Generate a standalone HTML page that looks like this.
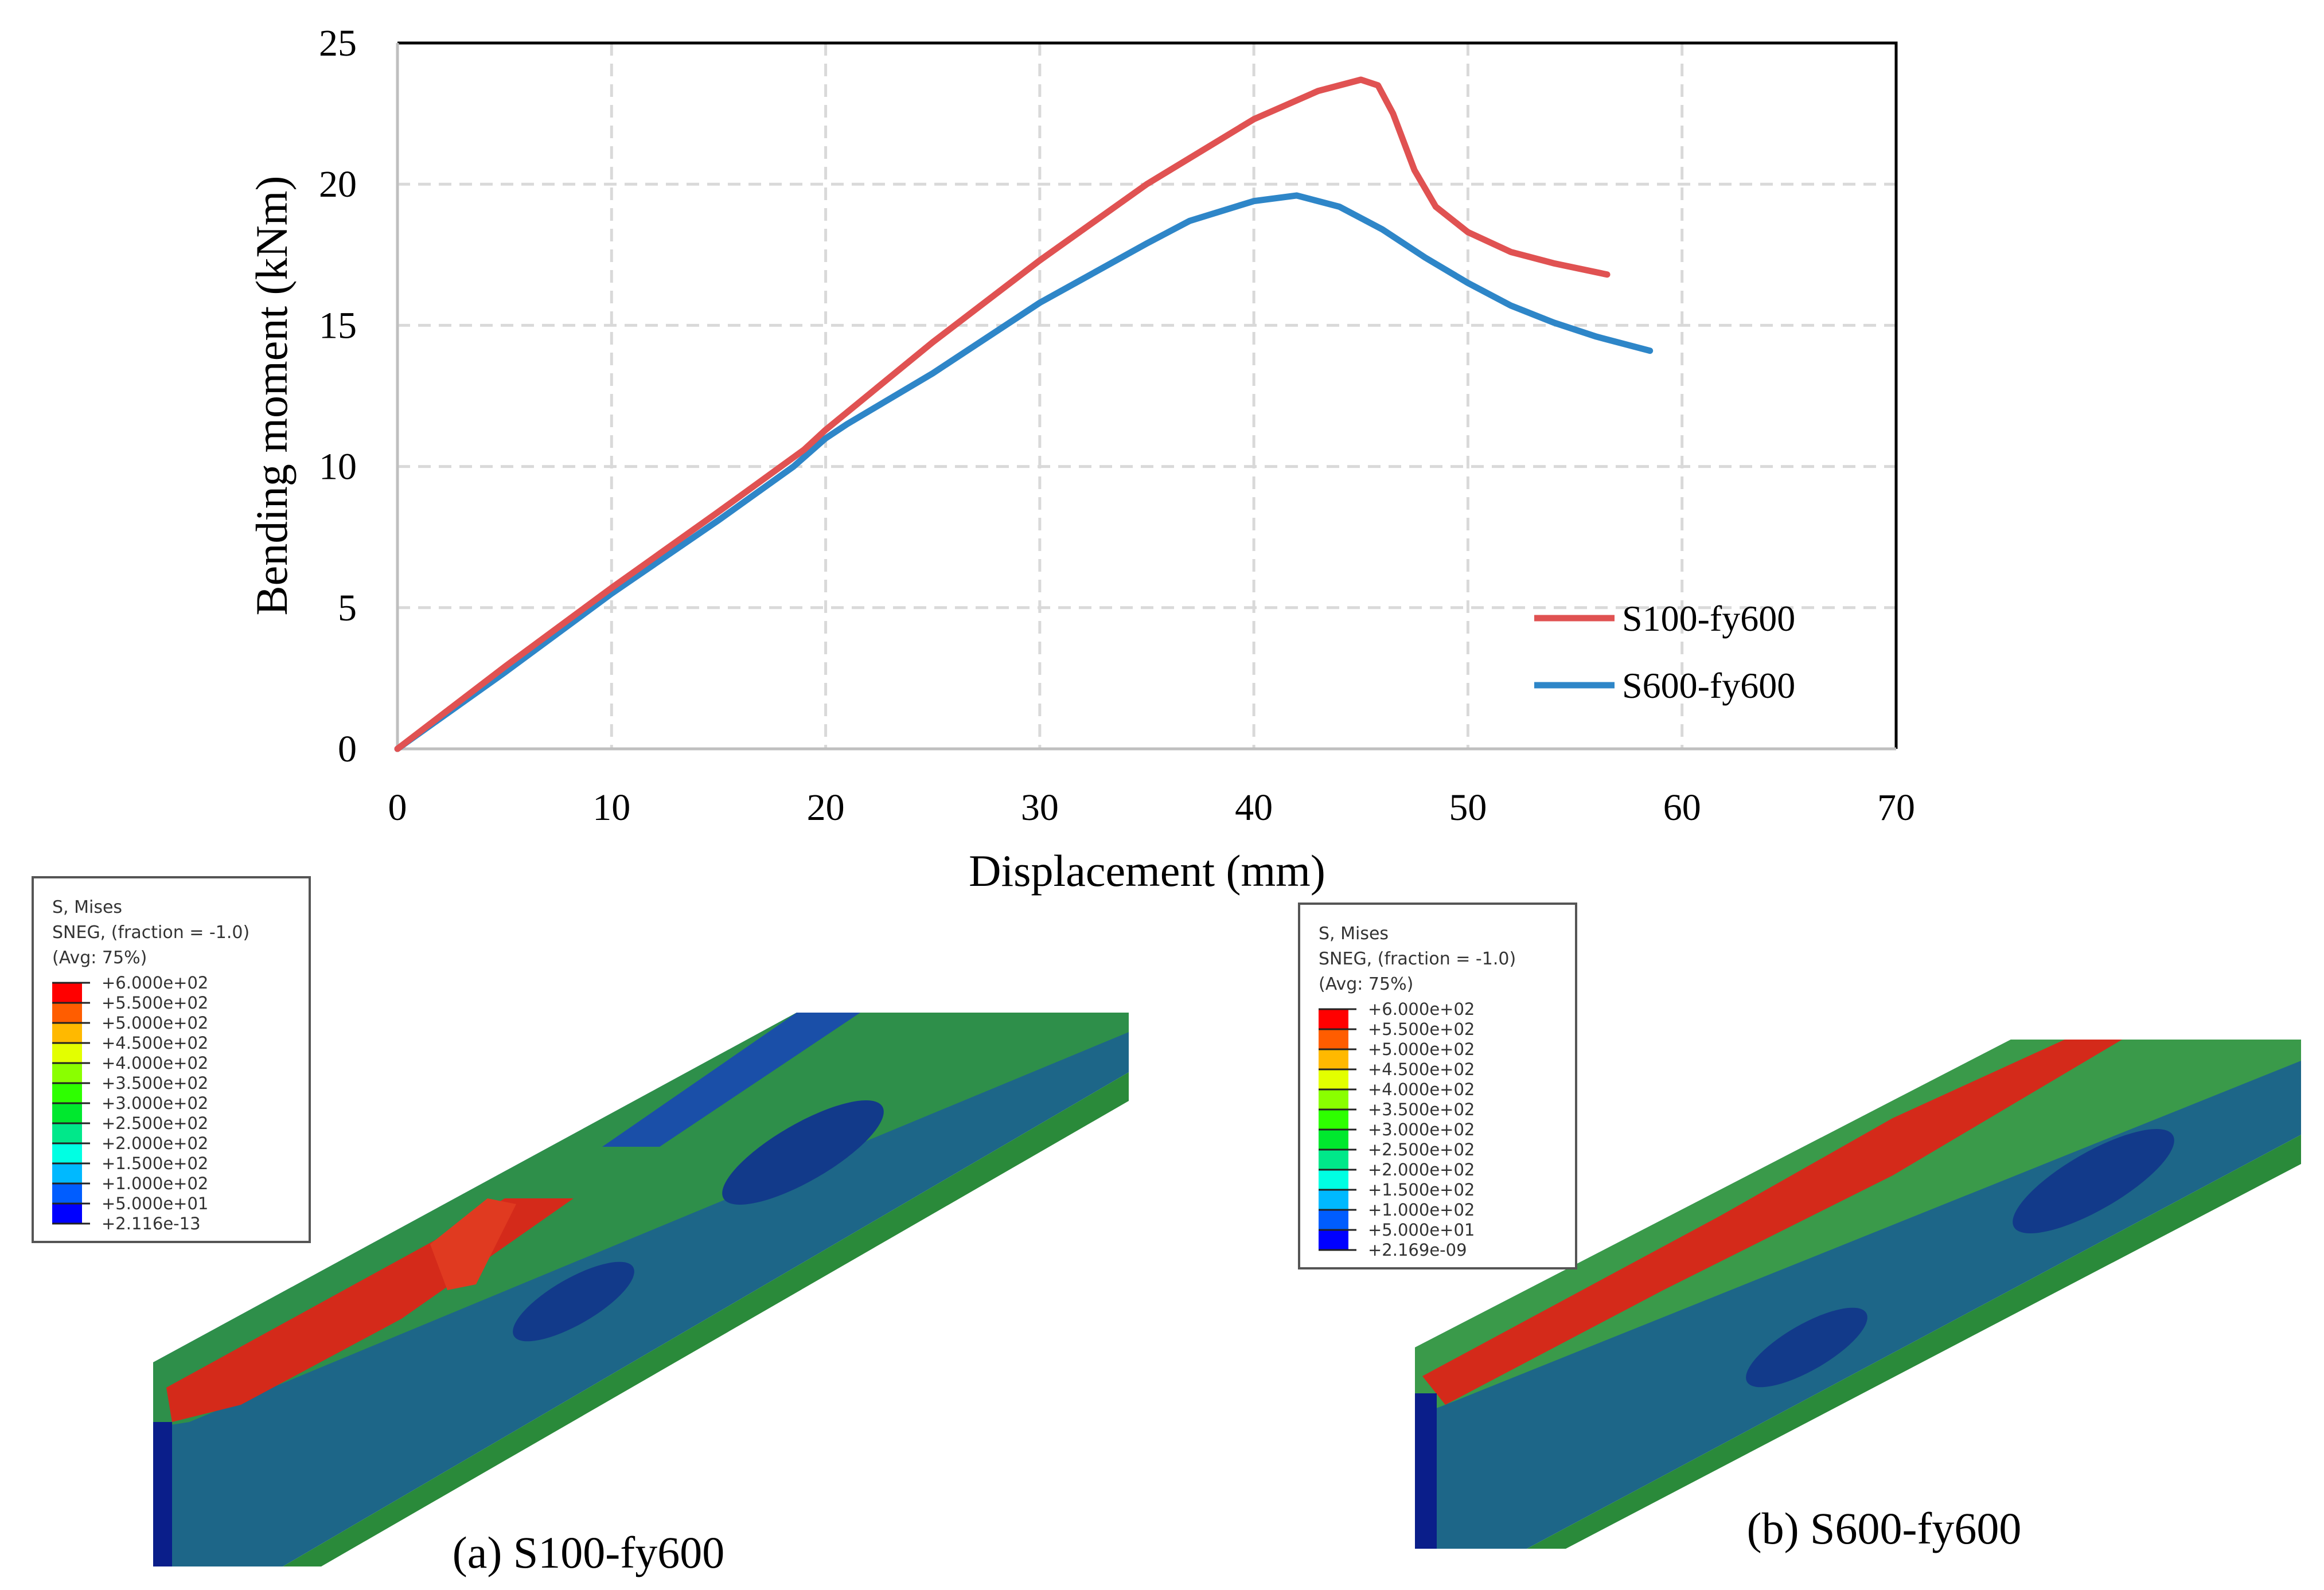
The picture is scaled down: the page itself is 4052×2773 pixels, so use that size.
<!DOCTYPE html>
<html><head><meta charset="utf-8"><style>
html,body{margin:0;padding:0;background:#fff;}
svg{display:block;}
</style></head><body>
<svg id="fig" width="4052" height="2773" viewBox="0 0 4052 2773" xmlns="http://www.w3.org/2000/svg">
<g id="chart"></g>
<g id="fea">
  <defs>
    <linearGradient id="webA" x1="0" y1="0" x2="1" y2="0">
      <stop offset="0" stop-color="#1a5a8a"/><stop offset="0.5" stop-color="#1f6a8c"/><stop offset="1" stop-color="#2a7a80"/>
    </linearGradient>
  </defs>
  <!-- beam a -->
  <g>
    <polygon points="267,2376 1389,1766 1968,1766 1968,1870 493,2732 267,2732" fill="#1d6688"/>
    <polygon points="267,2376 1389,1766 1968,1766 1968,1800 330,2480 267,2490" fill="#2e8f4a"/>
    <polygon points="1389,1766 1500,1766 1150,2000 1050,2000" fill="#1a4fa8"/>
    <polygon points="290,2420 800,2140 880,2090 1000,2090 700,2300 420,2450 300,2480" fill="#d42a1a"/>
    <polygon points="750,2170 850,2090 900,2100 830,2240 780,2250" fill="#e03a20"/>
    <polygon points="493,2732 1968,1870 1968,1920 560,2732" fill="#2a8a3a"/>
    <polygon points="267,2480 300,2480 300,2732 267,2732" fill="#0a1e8a"/>
    <ellipse cx="1400" cy="2010" rx="160" ry="50" transform="rotate(-30 1400 2010)" fill="#123a8a"/>
    <ellipse cx="1000" cy="2270" rx="120" ry="40" transform="rotate(-30 1000 2270)" fill="#123a8a"/>
  </g>
  <!-- beam b -->
  <g>
    <polygon points="2467,2350 3506,1813 4012,1813 4012,1979 2662,2701 2467,2701" fill="#1d6688"/>
    <polygon points="2467,2350 3506,1813 4012,1813 4012,1850 2520,2450 2467,2470" fill="#3a9a4a"/>
    <polygon points="2480,2400 3000,2120 3300,1950 3600,1813 3700,1813 3300,2050 2900,2250 2520,2450" fill="#d42a1a"/>
    <polygon points="2662,2701 4012,1979 4012,2030 2730,2701" fill="#2a8a3a"/>
    <polygon points="2467,2430 2505,2430 2505,2701 2467,2701" fill="#0a1e8a"/>
    <ellipse cx="3150" cy="2350" rx="120" ry="40" transform="rotate(-30 3150 2350)" fill="#123a8a"/>
    <ellipse cx="3650" cy="2060" rx="160" ry="50" transform="rotate(-30 3650 2060)" fill="#123a8a"/>
  </g>
  <text x="1026" y="2734" font-family="Liberation Serif, serif" font-size="78" text-anchor="middle">(a) S100-fy600</text>
  <text x="3285" y="2692" font-family="Liberation Serif, serif" font-size="78" text-anchor="middle">(b) S600-fy600</text>
</g>
<g id="legA"></g>
<g id="legB"></g>
</svg>
<script>
const xTicks = [0,10,20,30,40,50,60,70];
const yTicks = [0,5,10,15,20,25];
const redX = [0,5,10,15,19,20,25,30,35,40,43,45,45.8,46.5,47.5,48.5,50,52,54,56.5];
const redY = [0,2.9,5.7,8.4,10.6,11.3,14.4,17.3,20.0,22.3,23.3,23.7,23.5,22.5,20.5,19.2,18.3,17.6,17.2,16.8];
const blueX = [0,5,10,15,18.5,20,21,25,30,35,37,40,42,44,46,48,50,52,54,56,58.5];
const blueY = [0,2.7,5.5,8.1,10,11,11.5,13.3,15.8,17.9,18.7,19.4,19.6,19.2,18.4,17.4,16.5,15.7,15.1,14.6,14.1];
const seriesNames = ["S100-fy600","S600-fy600"];
const legendA = ["+6.000e+02","+5.500e+02","+5.000e+02","+4.500e+02","+4.000e+02","+3.500e+02","+3.000e+02","+2.500e+02","+2.000e+02","+1.500e+02","+1.000e+02","+5.000e+01","+2.116e-13"];
const legendB = ["+6.000e+02","+5.500e+02","+5.000e+02","+4.500e+02","+4.000e+02","+3.500e+02","+3.000e+02","+2.500e+02","+2.000e+02","+1.500e+02","+1.000e+02","+5.000e+01","+2.169e-09"];
const bandColors = ["#ff0000","#ff5d00","#ffb900","#e3ff00","#8aff00","#2eff00","#00e82e","#00e88a","#00ffe3","#00b9ff","#005dff","#0000ff"];

const NS="http://www.w3.org/2000/svg";
const L=693,R=3306,T=75,B=1306;
const sx=v=>L+(v-0)/(70-0)*(R-L);
const sy=v=>B-(v-0)/(25-0)*(B-T);
const chart=document.getElementById('chart');
function mk(tag,attrs,parent){const e=document.createElementNS(NS,tag);for(const k in attrs)e.setAttribute(k,attrs[k]);parent.appendChild(e);return e;}

xTicks.forEach(t=>{
  if(t>0&&t<70){const g=mk('line',{x1:sx(t),x2:sx(t),y1:T,y2:B,stroke:'#d9d9d9','stroke-width':5,'stroke-dasharray':'22,14'},chart);
  
  }
  const tx=mk('text',{x:sx(t),y:1430,'font-family':'Liberation Serif, serif','font-size':66,'text-anchor':'middle'},chart);
  tx.textContent=t;
  
  
});
yTicks.forEach(t=>{
  if(t>0&&t<25){const g=mk('line',{x1:L,x2:R,y1:sy(t),y2:sy(t),stroke:'#d9d9d9','stroke-width':5,'stroke-dasharray':'22,14'},chart);
  
  }
  const tx=mk('text',{x:622,y:sy(t)+22,'font-family':'Liberation Serif, serif','font-size':66,'text-anchor':'end'},chart);
  tx.textContent=t;
  
  
});
const frame=mk('path',{d:`M${L},${T} H${R} V${B}`,fill:'none',stroke:'#000','stroke-width':5},chart);


const ax=mk('path',{d:`M${L},${T} V${B} H${R}`,fill:'none',stroke:'#bfbfbf','stroke-width':5},chart);



function line(xs,ys,color,name){
  const d=xs.map((x,i)=>(i?'L':'M')+sx(x).toFixed(1)+','+sy(ys[i]).toFixed(1)).join(' ');
  const p=mk('path',{d:d,fill:'none',stroke:color,'stroke-width':11,'stroke-linejoin':'round','stroke-linecap':'round'},chart);
  
  
}
line(blueX,blueY,'#2e86c8','series-s600-fy600');
line(redX,redY,'#e05252','series-s100-fy600');

[['#e05252',1078],['#2e86c8',1195]].forEach((c,i)=>{
  const l=mk('line',{x1:2675,x2:2815,y1:c[1],y2:c[1],stroke:c[0],'stroke-width':11},chart);
  
  
  const t=mk('text',{x:2828,y:c[1]+22,'font-family':'Liberation Serif, serif','font-size':64},chart);
  t.textContent=seriesNames[i];
  
  
});
const xt=mk('text',{x:2000,y:1545,'font-family':'Liberation Serif, serif','font-size':78,'text-anchor':'middle'},chart);
xt.textContent='Displacement (mm)';


const yt=mk('text',{x:0,y:0,'font-family':'Liberation Serif, serif','font-size':78,'text-anchor':'middle',transform:'translate(500,690) rotate(-90)'},chart);
yt.textContent='Bending moment (kNm)';



function legend(id,ox,oy,labels){
  const g=document.getElementById(id);
  const box=mk('rect',{x:ox,y:oy,width:483,height:636,fill:'#fff',stroke:'#555','stroke-width':4},g);
  
  
  ['S, Mises','SNEG, (fraction = -1.0)','(Avg: 75%)'].forEach((s,i)=>{
    const t=mk('text',{x:ox+34,y:oy+62+i*44,'font-family':'DejaVu Sans, sans-serif','font-size':30,fill:'#333'},g);
    t.textContent=s;
    
    
  });
  const top=oy+184,h=35;
  bandColors.forEach((c,i)=>{
    const r=mk('rect',{x:ox+34,y:top+i*h,width:52,height:h,fill:c},g);
    
    
  });
  labels.forEach((s,i)=>{
    const ln=mk('line',{x1:ox+34,x2:ox+100,y1:top+i*h,y2:top+i*h,stroke:'#222','stroke-width':3},g);
    
    
    const t=mk('text',{x:ox+120,y:top+i*h+10,'font-family':'DejaVu Sans, sans-serif','font-size':29,fill:'#333'},g);
    t.textContent=s;
    
    
  });
}
legend('legA',57,1530,legendA);
legend('legB',2265,1576,legendB);
</script>
</body></html>
